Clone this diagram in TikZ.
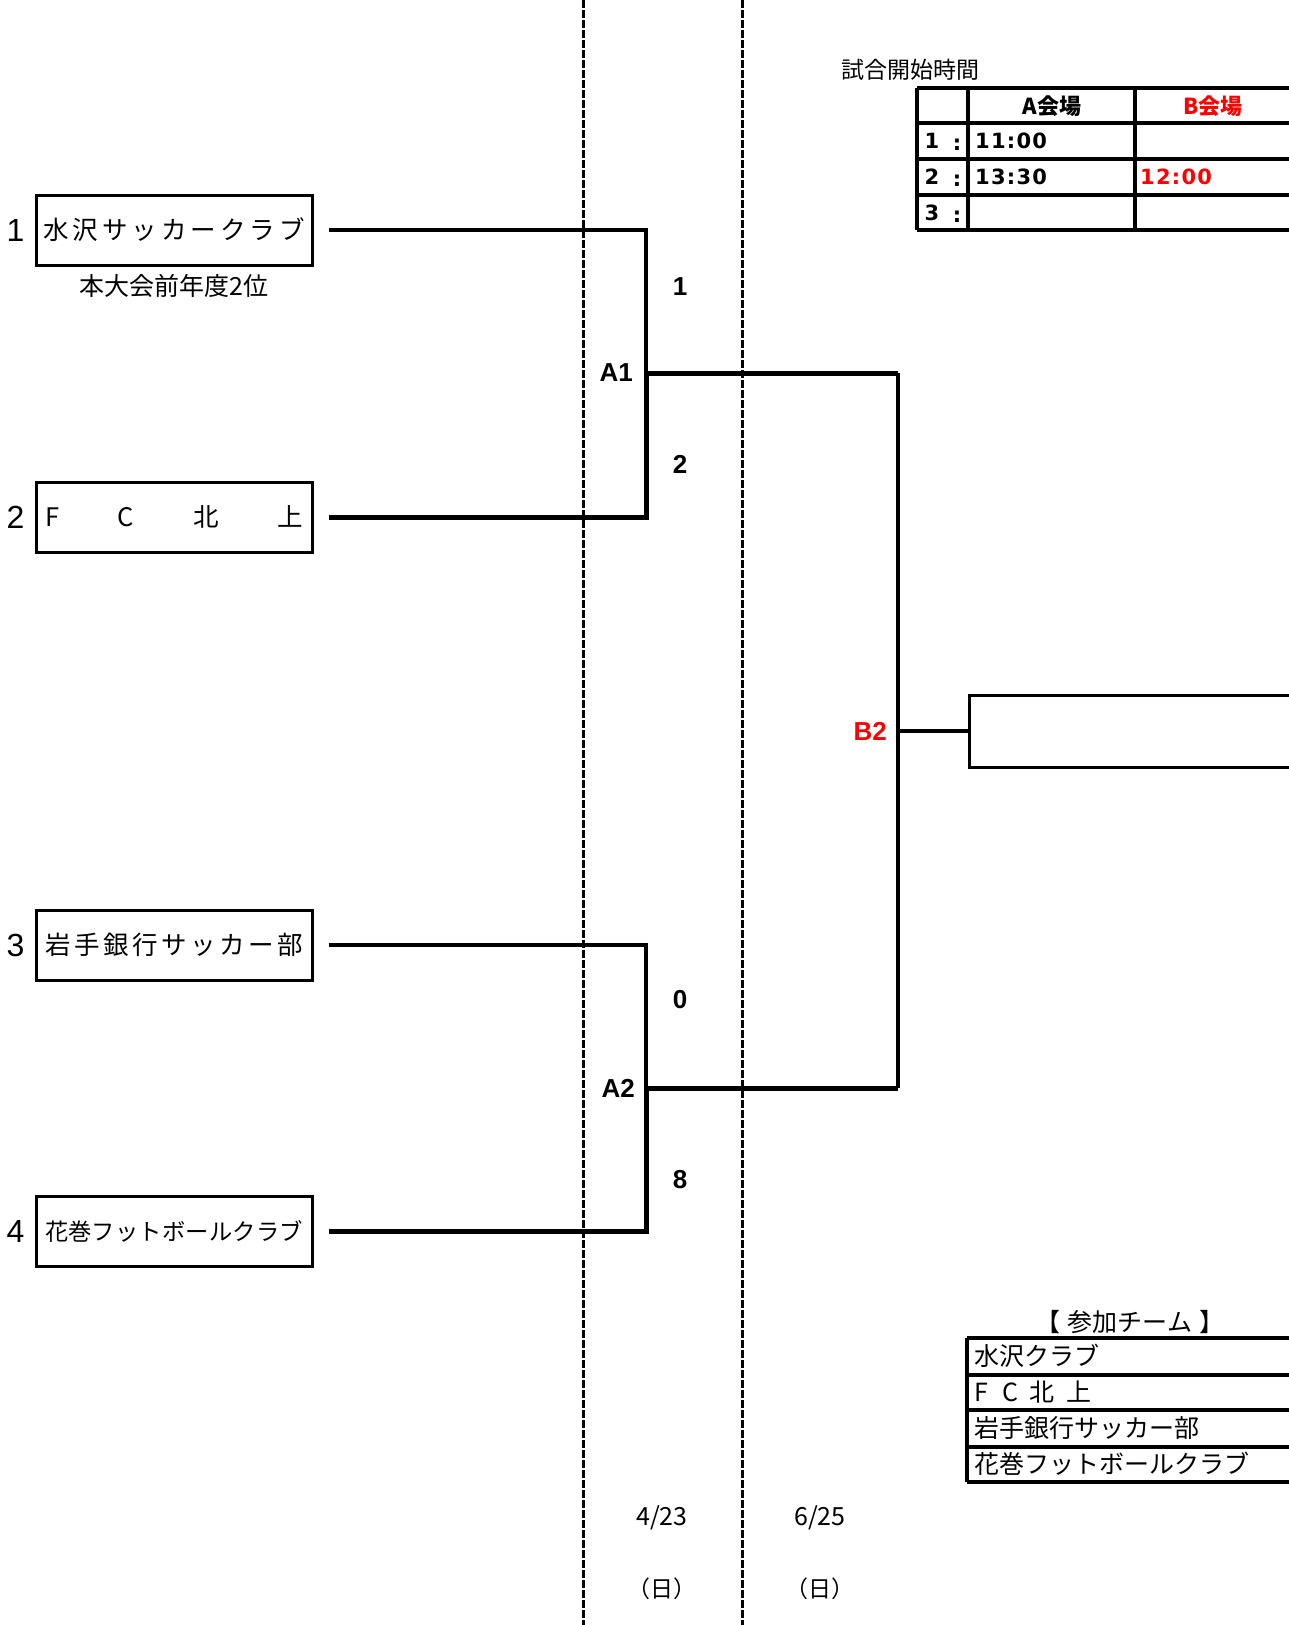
\documentclass[tikz,border=0pt]{standalone}
\usepackage{fontspec}
\setmainfont{Noto Sans CJK JP}
\newfontfamily\latinfont{Liberation Sans}
\newfontfamily\numfont{DejaVu Sans}[LetterSpace=6]
\usetikzlibrary{positioning}
\definecolor{venuered}{RGB}{255,0,0}

\begin{document}
\begin{tikzpicture}[x=1pt,y=-1pt,
  team/.style = {draw, line width=3pt, minimum width=276pt, minimum height=70pt, inner sep=0pt, font=\fontsize{25.5}{28}\selectfont},
  seed/.style = {inner sep=0pt, font=\latinfont\fontsize{32}{36}\selectfont},
  note/.style = {inner sep=0pt, font=\fontsize{25}{28}\selectfont},
  score/.style = {inner sep=0pt, font=\latinfont\bfseries\fontsize{26}{30}\selectfont},
  cell/.style = {inner sep=0pt, font=\fontsize{23}{26}\selectfont},
  num/.style = {inner sep=0pt, font=\numfont\bfseries\fontsize{21}{24}\selectfont},
  entry/.style = {inner sep=0pt, anchor=west, font=\fontsize{25}{28}\selectfont},
  lose/.style = {line width=3.2pt},
  win/.style = {line width=5pt},
  mid/.style = {line width=3.4pt},
  grid/.style = {line width=3.4pt},
  divider/.style = {line width=3pt, dash pattern=on 7.5pt off 2.5pt}]
		\useasboundingbox (0,0) rectangle (1288,1625);
		\draw[divider] (583,0) -- (583,1625);
		\draw[divider] (742,0) -- (742,1625);
		\node[team] (t1) at (174,230) {\makebox[262pt]{水\hfill 沢\hfill サ\hfill ッ\hfill カ\hfill ー\hfill ク\hfill ラ\hfill ブ}};
		\node[team] (t2) at (174,517) {\makebox[258pt]{F\hfill C\hfill 北\hfill 上}};
		\node[team] (t3) at (174,945) {\makebox[258pt]{岩\hfill 手\hfill 銀\hfill 行\hfill サ\hfill ッ\hfill カ\hfill ー\hfill 部}};
		\node[team, font=\fontsize{23.3}{26}\selectfont] (t4) at (174,1231) {\makebox[258pt]{花\hfill 巻\hfill フ\hfill ッ\hfill ト\hfill ボ\hfill ー\hfill ル\hfill ク\hfill ラ\hfill ブ}};
		\node[seed] (n1) [left=10pt of t1] {1};
		\node[seed] (n2) [left=10pt of t2] {2};
		\node[seed] (n3) [left=10pt of t3] {3};
		\node[seed] (n4) [left=10pt of t4] {4};
		\node[note] (rank) [below=8pt of t1] {本大会前年度2位};
		\coordinate (j1) at (646,373);
		\coordinate (j2) at (646,1088);
		\coordinate (jb) at (898,731);
		\node[draw, line width=3pt, minimum width=420pt, minimum height=72pt, anchor=west] (fin) at (968,731) {};
		\draw[lose] ([xshift=15pt]t1.east) -| (j1);
		\draw[win] ([xshift=15pt]t2.east) -| (j1) -- (j1 -| jb);
		\draw[lose] ([xshift=15pt]t3.east) -| (j2);
		\draw[win] ([xshift=15pt]t4.east) -| (j2) -- (j2 -| jb);
		\draw[mid] (j1 -| jb) -- (j2 -| jb);
		\draw[mid] (jb) -- (fin.west);
		\node[score, anchor=east] (a1) at ([xshift=-13pt]j1) {A1};
		\node[score, anchor=east] (a2) at ([xshift=-11pt]j2) {A2};
		\node[score, anchor=east, text=venuered] (b2) at ([xshift=-11pt]jb) {B2};
		\node[score] (s1) at (680,287) {1};
		\node[score] (s2) at (680,464) {2};
		\node[score] (s3) at (680,1000) {0};
		\node[score] (s4) at (680,1180) {8};
		\node[cell, font=\fontsize{25}{28}\selectfont] (d1) at (662,1518) {4/23};
		\node[cell] (w1) at (662,1589) {（日）};
		\node[cell, font=\fontsize{25}{28}\selectfont] (d2) at (820,1518) {6/25};
		\node[cell] (w2) at (820,1589) {（日）};
		\node[cell, anchor=west] (kick) at (841,70) {試合開始時間};
		\foreach \y in {88,123,159,195,230}
			\draw[grid] (917,\y) -- (1300,\y);
		\foreach \x in {917,968,1135}
			\draw[grid] (\x,88) -- (\x,230);
		\node[cell, font=\bfseries\fontsize{22}{26}\selectfont] (va) at (1052,106) {A会場};
		\node[cell, font=\bfseries\fontsize{22}{26}\selectfont, text=venuered] (vb) at (1213,106) {B会場};
		\foreach \r/\y in {1/141,2/177,3/213} {
			\node[num] at (932,\y) {\r};
			\node[num] at (957,\y+4) {:};
		}
		\node[num, anchor=west] (ta1) at (975,141) {11:00};
		\node[num, anchor=west] (ta2) at (975,177) {13:30};
		\node[num, anchor=west, text=venuered] (tb2) at (1140,177) {12:00};
		\node[note] (teams) at (1130,1322) {【\hspace{7pt}参加チーム\hspace{7pt}】};
		\foreach \y in {1338,1375,1410,1447,1482}
			\draw[grid] (967,\y) -- (1300,\y);
		\draw[grid] (967,1338) -- (967,1482);
		\node[entry] (e1) at (974,1356) {水沢クラブ};
		\node[entry] (e2) at (974,1392) {F\hspace{14pt}C\hspace{12pt}北\hspace{12pt}上};
		\node[entry] (e3) at (974,1428) {岩手銀行サッカー部};
		\node[entry] (e4) at (974,1464) {花巻フットボールクラブ};
	\end{tikzpicture}
\end{document}
